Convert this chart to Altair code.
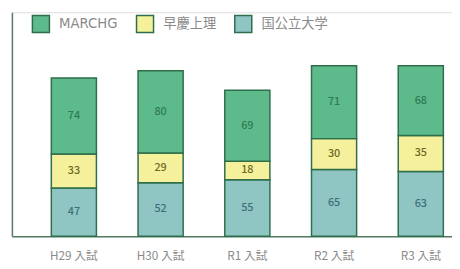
import altair as alt
import pandas as pd

years = ["H29 入試", "H30 入試", "R1 入試", "R2 入試", "R3 入試"]
series = ["MARCHG", "早慶上理", "国公立大学"]
marchg = [74, 80, 69, 71, 68]
soukei = [33, 29, 18, 30, 35]
kokkou = [47, 52, 55, 65, 63]

rows = []
for i, y in enumerate(years):
    for s, vals, order in [("国公立大学", kokkou, 0), ("早慶上理", soukei, 1), ("MARCHG", marchg, 2)]:
        rows.append({"year": y, "series": s, "value": vals[i], "ord": order})
df = pd.DataFrame(rows)

colors = ["#5dba8b", "#f4f09c", "#8fc6c4"]
text_colors = ["#2f7a55", "#6e6a26", "#3e6f78"]
font = "Noto Sans CJK JP"
legend_font = "DejaVu Sans, Noto Sans CJK JP"

base = alt.Chart(df).transform_stack(
    stack="value", groupby=["year"], as_=["y0", "y1"], sort=[alt.SortField("ord", order="ascending")]
).transform_calculate(mid="(datum.y0 + datum.y1) / 2")

xenc = alt.X("year:N", sort=years, title=None,
             scale=alt.Scale(paddingInner=0.48, paddingOuter=0.277, align=0.82),
             axis=alt.Axis(labelAngle=0, ticks=False, labelColor="#8a8a8a", labelFontSize=12,
                           labelFont=font, labelPadding=15, domainColor="#557a63", domainWidth=1.5))
yscale = alt.Scale(domain=[0, 218])

bars = base.mark_bar(stroke="#2e6e4a", strokeWidth=1.5).encode(
    x=xenc,
    y=alt.Y("y0:Q", scale=yscale, title=None,
            axis=alt.Axis(labels=False, ticks=False, grid=False, domainColor="#557a63", domainWidth=1.5)),
    y2="y1:Q",
    fill=alt.Color("series:N", sort=series,
                   scale=alt.Scale(domain=series, range=colors),
                   legend=alt.Legend(title=None, orient="none", legendX=20, legendY=2, direction="horizontal",
                                     symbolType="square", symbolSize=300, symbolStrokeColor="#2e6e4a",
                                     symbolStrokeWidth=1.5, symbolOpacity=1,
                                     labelColor="#8a8a8a", labelFontSize=13.5, labelFont=legend_font,
                                     columnPadding=15, labelOffset=9)),
)

texts = base.mark_text(fontSize=11, font=font, fontWeight=500).encode(
    x=alt.X("year:N", sort=years),
    y=alt.Y("mid:Q", scale=yscale),
    text="value:Q",
    color=alt.Color("series:N", scale=alt.Scale(domain=series, range=text_colors), legend=None),
)

chart = alt.layer(bars, texts).resolve_scale(color="independent").properties(
    width=448, height=228, autosize=alt.AutoSizeParams(type="none"),
    padding={"left": 4, "top": 2, "right": 0, "bottom": 30},
).configure_view(stroke=None, strokeWidth=0).configure(background="white")

chart.save("out.html", embed_options={"renderer": "svg", "actions": False})
